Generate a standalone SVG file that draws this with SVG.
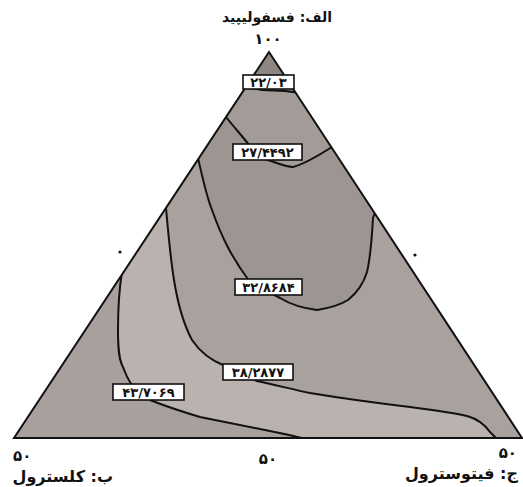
<svg xmlns="http://www.w3.org/2000/svg" width="523" height="487" viewBox="0 0 523 487">
<style>
.contour{fill:none;stroke:#111;stroke-width:2;stroke-linejoin:round}
.lbl rect{fill:#fff;stroke:#111;stroke-width:1.6}
.lbl text{font-family:"DejaVu Sans","Noto Sans",sans-serif;font-weight:bold;font-size:13px;text-anchor:middle;fill:#111}
.ax{font-family:"DejaVu Sans","Noto Sans",sans-serif;font-weight:bold;fill:#111}
</style>
<defs>
<clipPath id="tri"><polygon points="269,52 14,438 522,438"/></clipPath>
</defs>
<rect width="523" height="487" fill="#fff"/>
<g id="regions" clip-path="url(#tri)">
<polygon points="269,52 14,438 522,438" fill="#a8a19d"/>
<path id="r-center" fill="#9c9591" d="M193,152 L198,158 C202,175 206,195 212,210 C222,238 232,258 250,282 L280,298 C290,304 300,308 317,310 C330,308 340,305 348,300 C358,292 364,282 367,272 C371,255 372,235 373,218 L378,205 L269,40 Z"/>
<path id="r-b" fill="#a29b97" d="M220,112 L226,117 C234,127 242,136 250,146 L262,158 C275,162 285,167 293,167 C305,164 318,156 335,145 L269,40 Z"/>
<path id="r-apex" fill="#8d8682" d="M240,86 L262,90 L285,91 L300,93 L269,40 Z"/>
<path id="r-band" fill="#bab2ae" d="M160,200 L166,208 C168,230 170,255 174,280 C178,305 184,325 192,340 C200,352 210,360 225,366 L257,381 C280,386 295,390 310,393 C340,398 360,401 410,407 C440,411 455,413 467,416 C478,419 485,425 490,432 L500,442 L0,445 L0,200 Z"/>
<path id="r-corner" fill="#a7a09c" d="M125,265 L122,272 C119,290 118,310 118,330 C118,350 119,360 123,367 C126,375 128,380 132,385 L150,400 C165,406 180,411 200,417 C220,421 240,425 260,429 C280,433 295,436 310,440 L320,445 L0,445 L0,265 Z"/>
</g>
<g id="connectors" clip-path="url(#tri)">
<path class="contour" d="M240,86 L262,90 L285,91 L300,93"/>
<path class="contour" d="M220,112 L226,117 C234,127 242,136 250,146 L262,158 C275,162 285,167 293,167 C305,164 318,156 335,145"/>
<path class="contour" d="M193,152 L198,158 C202,175 206,195 212,210 C222,238 232,258 250,282 L280,298 C290,304 300,308 317,310 C330,308 340,305 348,300 C358,292 364,282 367,272 C371,255 372,235 373,218 L378,205"/>
<path class="contour" d="M160,200 L166,208 C168,230 170,255 174,280 C178,305 184,325 192,340 C200,352 210,360 225,366 L257,381 C280,386 295,390 310,393 C340,398 360,401 410,407 C440,411 455,413 467,416 C478,419 485,425 490,432 L500,442"/>
<path class="contour" d="M125,265 L122,272 C119,290 118,310 118,330 C118,350 119,360 123,367 C126,375 128,380 132,385 L150,400 C165,406 180,411 200,417 C220,421 240,425 260,429 C280,433 295,436 310,440"/>
</g>
<polygon id="triangle" points="269,52 14,438 522,438" fill="none" stroke="#111" stroke-width="2"/>
<g id="label-2203" class="lbl"><rect x="243" y="75" width="51" height="14"/><text x="268.5" y="87">۲۲/۰۳</text></g>
<g id="label-274492" class="lbl"><rect x="233" y="144" width="69" height="16"/><text x="267.5" y="157">۲۷/۴۴۹۲</text></g>
<g id="label-328684" class="lbl"><rect x="235" y="279" width="67" height="16"/><text x="268.5" y="292">۳۲/۸۶۸۴</text></g>
<g id="label-382877" class="lbl"><rect x="223" y="364" width="70" height="16"/><text x="258" y="377">۳۸/۲۸۷۷</text></g>
<g id="label-437069" class="lbl"><rect x="113" y="384" width="71" height="16"/><text x="148.5" y="397">۴۳/۷۰۶۹</text></g>
<g id="dots" fill="#111"><circle cx="120" cy="252" r="1.6"/><circle cx="415" cy="255" r="1.6"/></g>
<g id="axis-a">
<text class="ax" x="277" y="22" font-size="14" text-anchor="middle" direction="rtl">الف: فسفولیپید</text>
<text class="ax" x="268" y="44" font-size="15" text-anchor="middle">۱۰۰</text>
</g>
<g id="axis-b">
<text class="ax" x="13" y="461" font-size="15">۵۰</text>
<text class="ax" x="113" y="482" font-size="16" text-anchor="start" direction="rtl">ب: کلسترول</text>
</g>
<g id="axis-mid"><text class="ax" x="268" y="464" font-size="15" text-anchor="middle">۵۰</text></g>
<g id="axis-c">
<text class="ax" x="517" y="458" font-size="15" text-anchor="end">۵۰</text>
<text class="ax" x="518" y="479" font-size="16" text-anchor="start" direction="rtl">ج: فیتوسترول</text>
</g>
</svg>
